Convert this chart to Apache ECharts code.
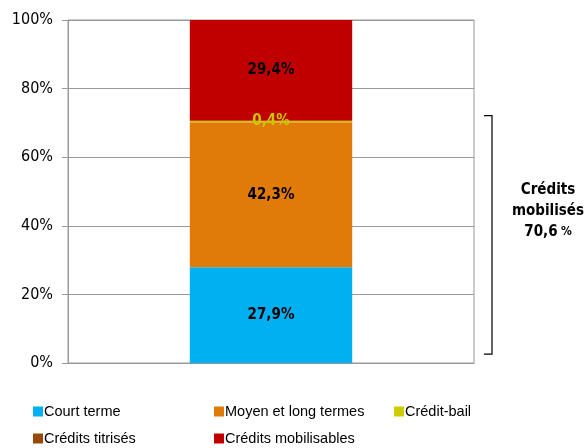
<!DOCTYPE html>
<html>
<head>
<meta charset="utf-8">
<script src="https://cdn.jsdelivr.net/npm/echarts@6/dist/echarts.min.js"></script>
<style>
    html, body { margin: 0; padding: 0; background: #fff; }
    #chart { width: 588px; height: 448px; }
</style>
</head>
<body>
<div id="chart"></div>
<script>
const seriesNames = ['Court terme', 'Moyen et long termes', 'Crédit-bail', 'Crédits titrisés', 'Crédits mobilisables'];
const seriesValues = [27.9, 42.3, 0.4, 0, 29.4];
const seriesColors = ['#00b0f0', '#e07b0a', '#cccc00', '#984807', '#c00000'];
const labelColors = ['#000', '#000', '#c8c800', '#000', '#000'];
const categories = [''];
const yTicks = [0, 20, 40, 60, 80, 100];

// mobilised = everything except "Crédits mobilisables"
const mobilised = seriesValues.slice(0, 3).reduce((a, b) => a + b, 0);

const fmt = (v) => v.toFixed(1).replace('.', ',');

// legend slots (column x, row y)
const legendPos = [
    { left: 33, top: 404 },
    { left: 214, top: 404 },
    { left: 394, top: 404 },
    { left: 33, top: 431 },
    { left: 214, top: 431 },
];

const chartEl = document.getElementById('chart');
const chart = echarts.init(chartEl, null, { renderer: 'canvas' });

const option = {
    animation: false,
    grid: {
        left: 68,
        right: 114,
        top: 20,
        bottom: 85,
        show: true,
        borderColor: '#999',
        borderWidth: 1,
    },
    legend: seriesNames.map((name, i) => ({
        data: [name],
        left: legendPos[i].left,
        top: legendPos[i].top,
        icon: 'rect',
        itemWidth: 10,
        itemHeight: 10,
        padding: 0,
        selectedMode: false,
        textStyle: {
            fontFamily: 'Liberation Sans',
            fontSize: 14.5,
            color: '#000',
            padding: [0, 0, 0, -4],
        },
    })),
    xAxis: {
        type: 'category',
        data: categories,
        axisLine: { lineStyle: { color: '#999', width: 1 } },
        axisTick: { show: false },
        axisLabel: { show: false },
    },
    yAxis: {
        type: 'value',
        min: yTicks[0],
        max: yTicks[yTicks.length - 1],
        interval: yTicks[1] - yTicks[0],
        axisLine: { show: true, lineStyle: { color: '#999', width: 1 } },
        axisTick: { show: true, length: 6, lineStyle: { color: '#999' } },
        splitLine: { lineStyle: { color: '#999', width: 1 } },
        axisLabel: {
            formatter: '{value}%',
            fontFamily: 'DejaVu Sans Condensed',
            fontSize: 16,
            color: '#000',
            margin: 15,
        },
    },
    series: seriesNames.map((name, i) => ({
        name,
        type: 'bar',
        stack: 'total',
        barWidth: '40%',
        data: [seriesValues[i]],
        itemStyle: { color: seriesColors[i] },
        label: {
            show: seriesValues[i] > 0,
            position: 'inside',
            formatter: (p) => fmt(p.value) + '%',
            fontFamily: 'DejaVu Sans Condensed',
            fontWeight: 'bold',
            fontSize: 15,
            color: labelColors[i],
        },
    })),
};

chart.setOption(option);

// bracket + note on the right, anchored to the axis scale
const drawBracket = () => {
    const yTop = chart.convertToPixel({ yAxisIndex: 0 }, mobilised + 1.5);
    const yBot = chart.convertToPixel({ yAxisIndex: 0 }, 2.6);
    const xIn = 484;
    const xOut = 492;
    chart.setOption({
        graphic: [
            {
                type: 'polyline',
                shape: { points: [[xIn, yTop], [xOut, yTop], [xOut, yBot], [xIn, yBot]] },
                style: { stroke: '#000', lineWidth: 1.2, fill: null },
            },
            {
                type: 'text',
                x: 548,
                y: (yTop + yBot) / 2 - 24,
                style: {
                    text: '{t|Crédits}\n{t|mobilisés}\n{t|' + fmt(mobilised) + '} {p|%}',
                    align: 'center',
                    verticalAlign: 'middle',
                    rich: {
                        t: { fontFamily: 'DejaVu Sans Condensed', fontWeight: 'bold', fontSize: 15, lineHeight: 21, fill: '#000' },
                        p: { fontFamily: 'DejaVu Sans Condensed', fontWeight: 'bold', fontSize: 12, lineHeight: 21, fill: '#000' },
                    },
                },
            },
        ],
    });
};

drawBracket();
</script>
</body>
</html>
